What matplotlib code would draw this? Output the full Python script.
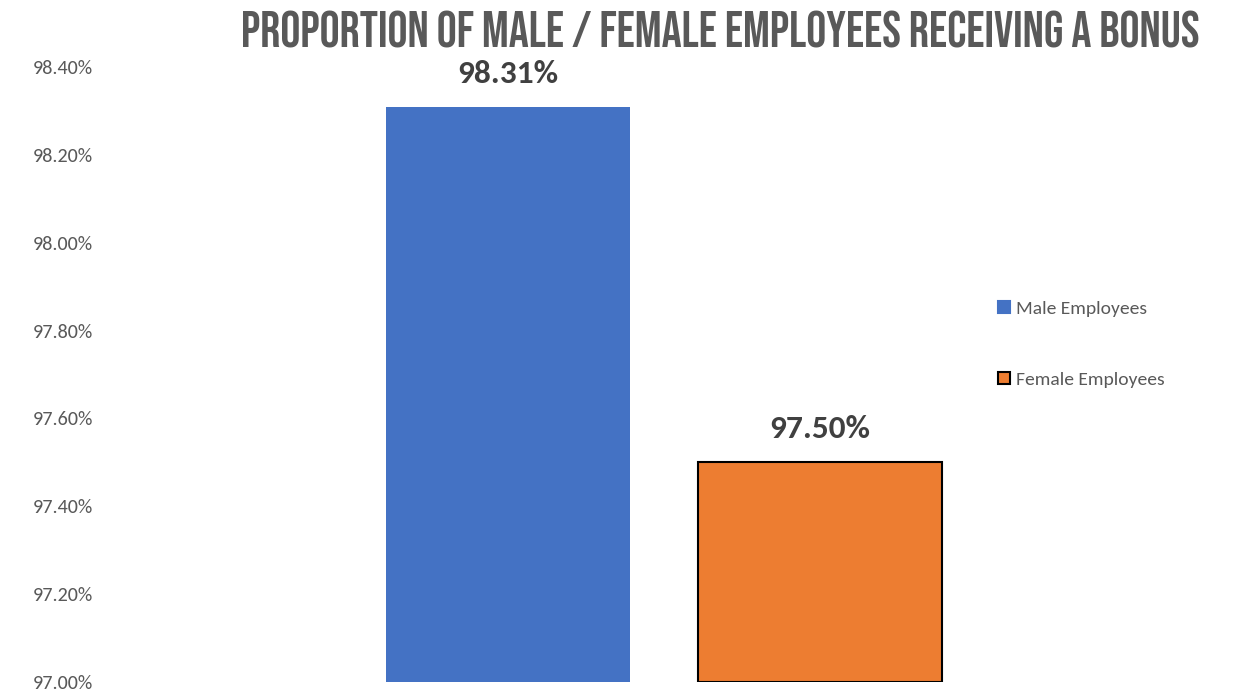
import matplotlib
matplotlib.use("Agg")
import matplotlib.pyplot as plt
from matplotlib.lines import Line2D
from matplotlib import font_manager

categories = ["Male Employees", "Female Employees"]
values = [98.31, 97.50]
value_labels = ["98.31%", "97.50%"]
ticks = [97.0, 97.2, 97.4, 97.6, 97.8, 98.0, 98.2, 98.4]
tick_labels = ["97.00%", "97.20%", "97.40%", "97.60%", "97.80%", "98.00%", "98.20%", "98.40%"]
colors = ["#4472C4", "#ED7D31"]
edges = ["none", "black"]
title_text = "PROPORTION OF MALE / FEMALE EMPLOYEES RECEIVING A BONUS"

names = {f.name for f in font_manager.fontManager.ttflist}


def pick(cands):
    for c in cands:
        if c in names:
            return c
    return "DejaVu Sans"


body = pick(["Carlito", "Open Sans"])
head = pick(["Bebas Neue", "Anton", "Oswald", "League Gothic", "Archivo Narrow"])

W, H = 1235, 696
fig = plt.figure(figsize=(W / 100, H / 100), dpi=100)
ax = fig.add_axes([100 / W, 14 / H, 876 / W, 615 / H])

for i, (v, c, e) in enumerate(zip(values, colors, edges)):
    ax.bar(i, v - 97.0, bottom=97.0, width=0.78, color=c,
           edgecolor=e, linewidth=1.5 if e != "none" else 0)
    ax.text(i, v + 0.075, value_labels[i], ha="center", va="center",
            fontsize=24, fontweight="bold", color="#404040", family=body)

ax.set_xlim(-1.308, 1.5)
ax.set_ylim(97.0, 98.4)
ax.set_yticks(ticks)
ax.set_yticklabels(tick_labels, fontsize=14.5, color="#595959", family=body)
ax.set_xticks([])
ax.tick_params(axis="y", length=0, pad=5)
for s in ax.spines.values():
    s.set_visible(False)

handles = [Line2D([], [], marker="s", linestyle="none", markersize=8,
                  markerfacecolor=c, markeredgecolor=(c if e == "none" else e),
                  markeredgewidth=1.5) for c, e in zip(colors, edges)]
fig.legend(handles, categories, loc="center left", bbox_to_anchor=(979 / W, 1 - 344 / H),
           frameon=False, labelcolor="#595959", handlelength=0.8,
           handletextpad=0.2, labelspacing=2.8, prop={"family": body, "size": 14})

# heavy condensed title, sized to span the width seen in the reference
title = fig.text(720 / W, 1 - 30 / H, title_text, ha="center", va="center",
                 fontsize=30, color="#595959", family=head)
fig.canvas.draw()
w = title.get_window_extent().width
title.set_fontsize(30 * 960 / w)

fig.savefig("out.png", dpi=100)
